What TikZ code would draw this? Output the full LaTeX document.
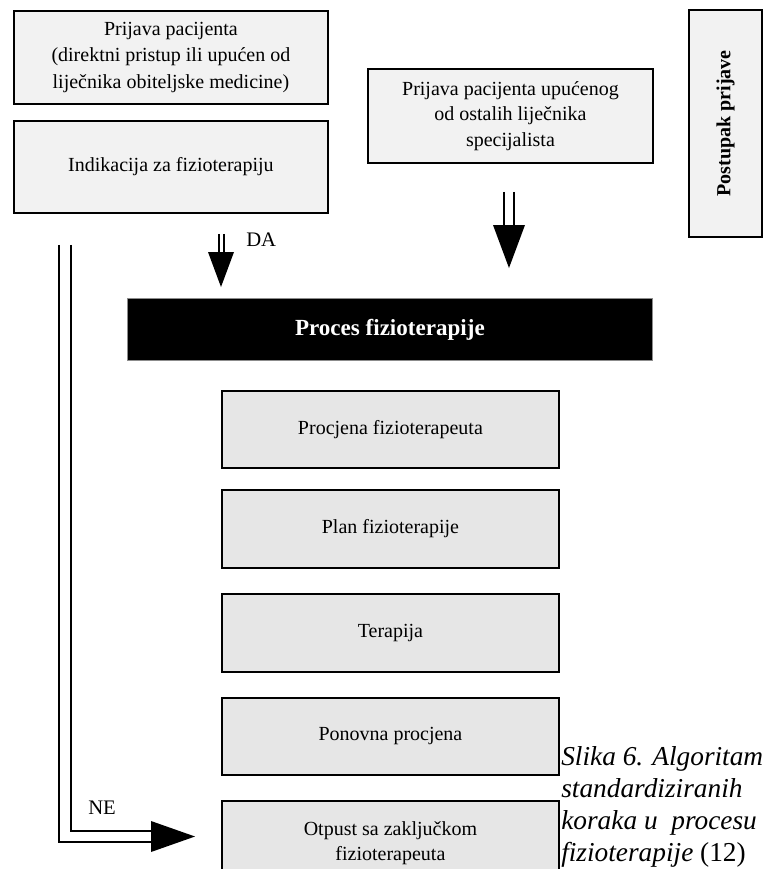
\documentclass[tikz,border=0pt]{standalone}
\usepackage{fontspec}
\setmainfont{Liberation Serif}
\usetikzlibrary{calc}
\definecolor{boxtop}{HTML}{F2F2F2}
\definecolor{boxlow}{HTML}{E6E6E6}
\begin{document}
\begin{tikzpicture}[x=0.75pt,y=-0.75pt,
  topbox/.style={draw=black, line width=1.4pt, fill=boxtop, inner sep=0pt, align=center,
     font=\fontsize{15pt}{20pt}\selectfont},
  procbox/.style={topbox, fill=boxlow},
  shaft/.style={line width=1.5pt},
  headtri/.style={fill=black, draw=none},
  lbl/.style={inner sep=0pt, font=\fontsize{15.5pt}{18pt}\selectfont}]
\useasboundingbox (0,0) rectangle (767,869);
\fill[white] (0,0) rectangle (767,869);
\begin{scope}
\clip (0,0) rectangle (767,869);
% top boxes
\node[topbox, anchor=north west, minimum width=235.5pt, minimum height=69.75pt] (prijava) at (13,10)
  {Prijava pacijenta\\(direktni pristup ili upućen od\\liječnika obiteljske medicine)};
\node[topbox, anchor=north west, minimum width=235.5pt, minimum height=69pt] (indik) at (13,120)
  {Indikacija za fizioterapiju};
\node[topbox, anchor=north west, minimum width=213.75pt, minimum height=70.5pt,
  font=\fontsize{15pt}{19pt}\selectfont] (spec) at (367,68)
  {Prijava pacijenta upućenog\\od ostalih liječnika\\specijalista};
\node[topbox, rotate=90, minimum width=170.25pt, minimum height=54.75pt,
  font=\fontsize{15pt}{18pt}\selectfont\bfseries] (postupak) at (725.5,123.5)
  {Postupak prijave};
% process header
\node[fill=black, draw=black!45, line width=0.6pt, anchor=north west, minimum width=393.75pt,
  minimum height=46.5pt, inner sep=0pt, text=white, font=\fontsize{17.3pt}{20pt}\selectfont\bfseries]
  (proces) at (127,298) {Proces fizioterapije};
% process steps
\node[procbox, anchor=north west, minimum width=252.75pt, minimum height=57.75pt] (procjena) at (221,390)
  {Procjena fizioterapeuta};
\node[procbox, anchor=north west, minimum width=252.75pt, minimum height=58.5pt] (plan) at (221,489)
  {Plan fizioterapije};
\node[procbox, anchor=north west, minimum width=252.75pt, minimum height=58.5pt] (terapija) at (221,593)
  {Terapija};
\node[procbox, anchor=north west, minimum width=252.75pt, minimum height=57.75pt] (ponovna) at (221,697)
  {Ponovna procjena};
\node[procbox, anchor=north west, minimum width=252.75pt, minimum height=63.75pt,
  font=\fontsize{15pt}{19pt}\selectfont] (otpust) at (221,800)
  {Otpust sa zaključkom\\fizioterapeuta};
\end{scope}
% DA arrow
\coordinate (daS) at ($(indik.south west)+(208,20)$);
\coordinate (daT) at ($(proces.north west)+(94,-11)$);
\draw[shaft] ([xshift=-1.5pt]daS) -- ([xshift=-1.5pt,yshift=25pt]daT);
\draw[shaft] ([xshift=2.25pt]daS) -- ([xshift=2.25pt,yshift=25pt]daT);
\fill[headtri] (daT) -- ++(-13,-35) -- ++(26,0) -- cycle;
\node[lbl, anchor=west] (da) at (246,240) {DA};
% right arrow
\coordinate (rS) at ($(spec.south west)+(142,28)$);
\coordinate (rT) at ($(proces.north west)+(382,-30)$);
\draw[shaft] ([xshift=-4.1pt]rS) -- ([xshift=-4.1pt,yshift=31pt]rT);
\draw[shaft] ([xshift=4.1pt]rS) -- ([xshift=4.1pt,yshift=31pt]rT);
\fill[headtri] (rT) -- ++(-16,-43) -- ++(32,0) -- cycle;
% NE arrow
\coordinate (neS) at ($(indik.south west)+(52,31)$);
\coordinate (neT) at ($(otpust.north west)+(-26,36.5)$);
\draw[shaft] ([xshift=-4.5pt]neS) |- ([xshift=-32pt,yshift=-4.1pt]neT);
\draw[shaft] ([xshift=4.5pt]neS) |- ([xshift=-32pt,yshift=4.1pt]neT);
\fill[headtri] (neT) -- ++(-44,-15.5) -- ++(0,31) -- cycle;
\node[lbl, anchor=west] (ne) at (88,808) {NE};
% caption
\node[inner sep=0pt, anchor=north west, align=left, font=\fontsize{20.5pt}{24pt}\selectfont] (cap) at (561,746)
  {\textit{Slika 6. Algoritam}\\\textit{standardiziranih}\\\textit{koraka u\ \ procesu}\\\textit{fizioterapije} (12)};
\end{tikzpicture}
\end{document}
